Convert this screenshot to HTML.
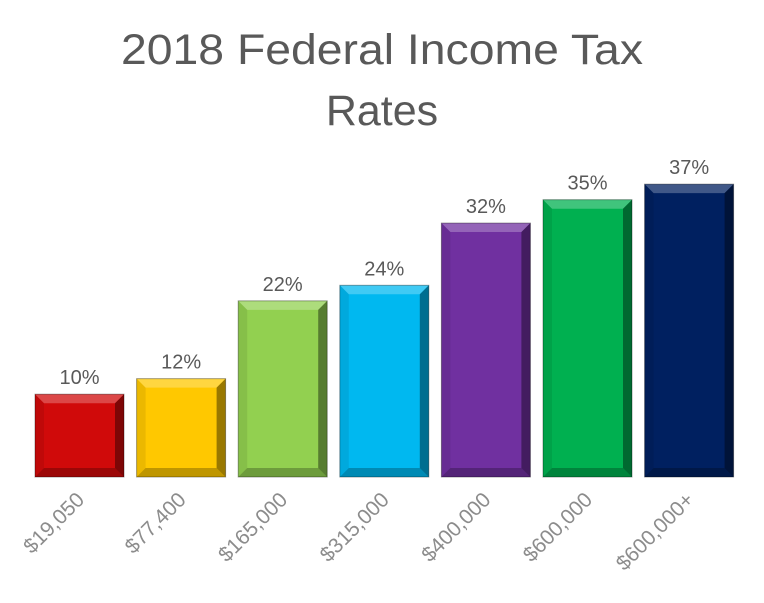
<!DOCTYPE html>
<html><head><meta charset="utf-8"><style>
body{margin:0;background:#fff;}
svg{display:block;font-family:"Liberation Sans",Calibri,sans-serif;}
</style></head><body>
<svg id="chart" width="764" height="603" viewBox="0 0 764 603">
<text x="382" y="64" font-size="43" fill="#595959" text-anchor="middle" textLength="522" lengthAdjust="spacingAndGlyphs">2018 Federal Income Tax</text>
<text x="382" y="125" font-size="43" fill="#595959" text-anchor="middle">Rates</text>
<g id="bars"></g>
</svg>
<script>
const categories = ["$19,050","$77,400","$165,000","$315,000","$400,000","$600,000","$600,000+"];
const rates = [10,12,22,24,32,35,37];
const colors = ["#d00a0a","#ffc800","#92d050","#00b8f0","#7030a0","#00b050","#002060"];
const svgNS = "http://www.w3.org/2000/svg";
const g = document.getElementById('bars');
const baseY = 477, x0 = 35, step = 101.6, bw = 89;
function yScale(v){ return 472 - v*7.78; }
function xScale(i){ return x0 + i*step; }
function mk(tag, attrs){ const e=document.createElementNS(svgNS,tag); for(const k in attrs) e.setAttribute(k,attrs[k]); return e; }
rates.forEach((v,i)=>{
  const x=xScale(i), y=yScale(v), h=baseY-y, b=9;
  const grp=mk('g',{});
  
  
  grp.appendChild(mk('rect',{x:x,y:y,width:bw,height:h,fill:colors[i]}));
  const pts=(a)=>a.map(p=>p.join(',')).join(' ');
  grp.appendChild(mk('polygon',{points:pts([[x,y],[x+bw,y],[x+bw-b,y+b],[x+b,y+b]]),fill:'#fff','fill-opacity':0.25}));
  grp.appendChild(mk('polygon',{points:pts([[x+bw,y],[x+bw,baseY],[x+bw-b,baseY-b],[x+bw-b,y+b]]),fill:'#000','fill-opacity':0.4}));
  grp.appendChild(mk('polygon',{points:pts([[x,baseY],[x+bw,baseY],[x+bw-b,baseY-b],[x+b,baseY-b]]),fill:'#000','fill-opacity':0.25}));
  grp.appendChild(mk('polygon',{points:pts([[x,y],[x,baseY],[x+b,baseY-b],[x+b,y+b]]),fill:'#000','fill-opacity':0.08}));
  grp.appendChild(mk('rect',{x:x,y:y,width:bw,height:h,fill:'none',stroke:'#000','stroke-opacity':0.35,'stroke-width':1}));
  g.appendChild(grp);
  const lbl=mk('text',{x:x+bw/2,y:y-10,'font-size':20,fill:'#595959','text-anchor':'middle'});
  lbl.textContent=v+'%';
  
  
  g.appendChild(lbl);
  const cx=x+bw/2+6, cy=501;
  const cl=mk('text',{x:cx,y:cy,'font-size':21,fill:'#8c8c8c','text-anchor':'end',transform:`rotate(-45 ${cx} ${cy})`});
  cl.textContent=categories[i];
  
  
  g.appendChild(cl);
});
</script>
</body></html>
